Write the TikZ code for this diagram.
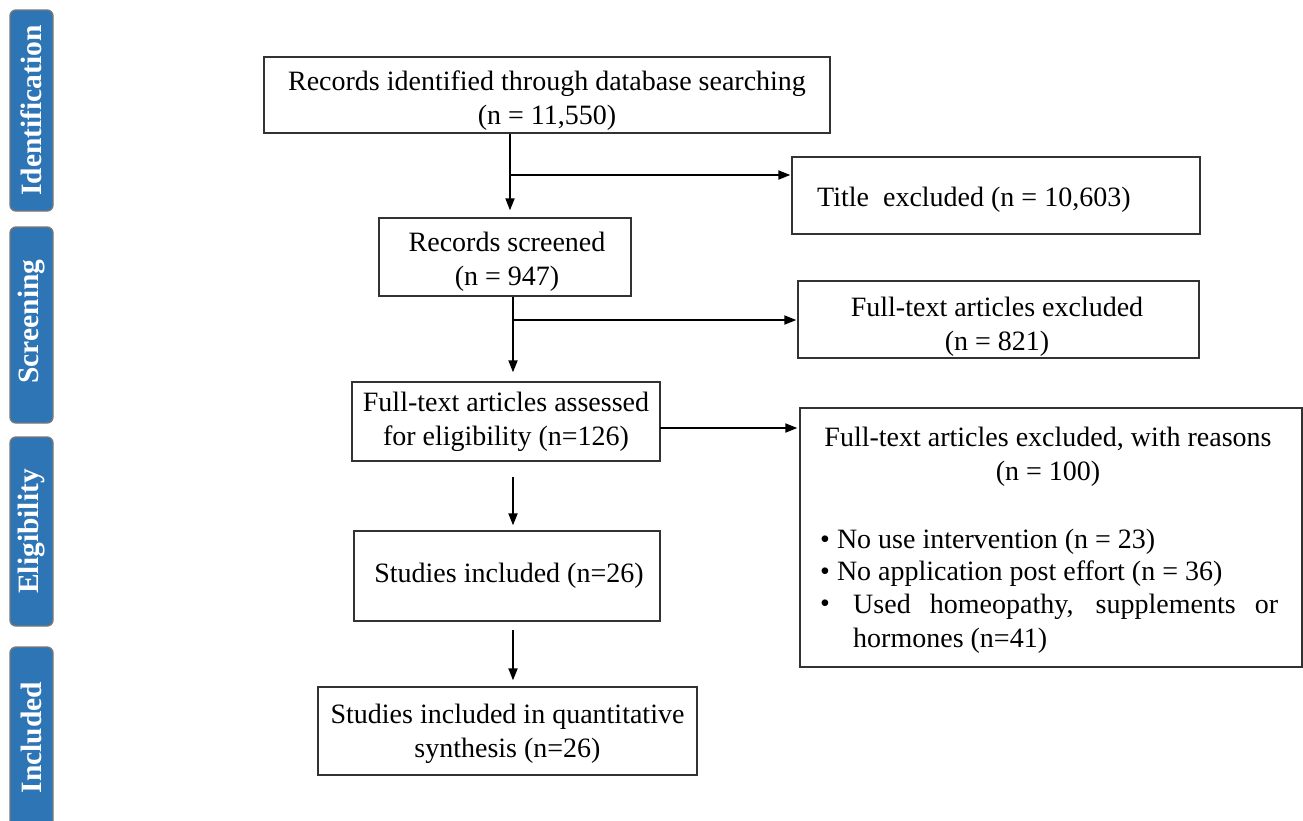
\documentclass[tikz,border=0pt]{standalone}
\usepackage{fontspec}
\setmainfont{Liberation Serif}
\usetikzlibrary{arrows.meta}
\definecolor{barblue}{RGB}{46,117,182}
\definecolor{bargray}{RGB}{120,120,120}
\definecolor{boxgray}{RGB}{50,50,50}
\begin{document}
\begin{tikzpicture}[x=1pt,y=-1pt,
  every node/.style={font=\fontsize{28}{34}\selectfont, inner sep=0pt},
  box/.style={draw=boxgray, line width=1.3pt},
  txt/.style={align=center},
  bar/.style={draw=bargray, fill=barblue, line width=1.4pt, rounded corners=6pt, minimum width=43pt},
  bartext/.style={rotate=90, text=white, font=\fontsize{29.5}{29.5}\selectfont\bfseries},
  conn/.style={line width=1.8pt},
  arr/.style={line width=1.8pt, -{Triangle[length=12pt,width=9pt]}},
  line/.style={anchor=west}
]
\useasboundingbox (0,0) rectangle (1303,820);

% side bars
\node[bar, minimum height=201pt] (bid) at (31.5,110.5) {};
\node[bartext] (tid) at (bid.center) {Identification};
\node[bar, minimum height=196pt] (bsc) at (31.5,325) {};
\node[bartext] (tsc) at (31.5,321.5) {Screening};
\node[bar, minimum height=189pt] (bel) at (31.5,531.5) {};
\node[bartext] (tel) at (bel.center) {Eligibility};
\node[bar, minimum height=190pt] (bin) at (31.5,742) {};
\node[bartext] (tin) at (31.5,737.5) {Included};

% boxes
\node[box, minimum width=566pt, minimum height=76pt] (rec) at (547,95) {};
\node[txt] (rect) at (547,100.5) {Records identified through database searching\\(n = 11,550)};
\node[box, minimum width=408pt, minimum height=77pt] (title) at (996,195.5) {};
\node[anchor=west] (titlet) at (817,199.5) {Title\ \ excluded (n = 10,603)};
\node[box, minimum width=252pt, minimum height=78pt] (scr) at (505,257) {};
\node[txt] (scrt) at (507,261.5) {Records screened\\(n = 947)};
\node[box, minimum width=401pt, minimum height=77pt] (ft) at (998.5,319.5) {};
\node[txt] (ftt) at (997,326.5) {Full-text articles excluded\\(n = 821)};
\node[box, minimum width=308pt, minimum height=79pt] (ass) at (506,421.5) {};
\node[txt] (asst) at (506,422) {Full-text articles assessed\\for eligibility (n=126)};
\node[box, minimum width=502pt, minimum height=259pt] (rea) at (1051,537.5) {};
\node[txt] (reat) at (1048,456.5) {Full-text articles excluded, with reasons\\(n = 100)};
\node[line] (r1) at (820,541.5) {\textbullet\ No use intervention (n = 23)};
\node[line] (r2) at (820,574) {\textbullet\ No application post effort (n = 36)};
\node[line] (r3) at (820,606.5) {\textbullet};
\node[line] (r3b) at (853,606.5) {\makebox[425pt][s]{Used homeopathy, supplements or}};
\node[line] (r4) at (853,640.5) {hormones (n=41)};
\node[box, minimum width=306pt, minimum height=90pt] (inc) at (507,576) {};
\node[txt] (inct) at (509,576) {Studies included (n=26)};
\node[box, minimum width=379pt, minimum height=88pt] (qua) at (507.5,731) {};
\node[txt] (quat) at (507.5,733.5) {Studies included in quantitative\\synthesis (n=26)};

% connectors
\coordinate (b1) at (510,175);
\draw[conn] (rec.south -| b1) -- (b1);
\draw[arr, shorten >=7pt] (b1) -- (scr.north -| b1);
\draw[arr, shorten >=1pt] (b1) -- (title.west |- b1);

\coordinate (b2) at (513,320);
\draw[conn] (scr.south -| b2) -- (b2);
\draw[arr, shorten >=9pt] (b2) -- (ass.north -| b2);
\draw[arr, shorten >=1pt] (b2) -- (ft.west |- b2);

\coordinate (b3) at (660,428);
\draw[arr, shorten >=2pt] (b3) -- (rea.west |- b3);

\coordinate (b4) at (513,477);
\draw[arr, shorten >=5pt] (b4) -- (inc.north -| b4);
\coordinate (b5) at (513,630);
\draw[arr, shorten >=6pt] (b5) -- (qua.north -| b5);
\end{tikzpicture}
\end{document}
